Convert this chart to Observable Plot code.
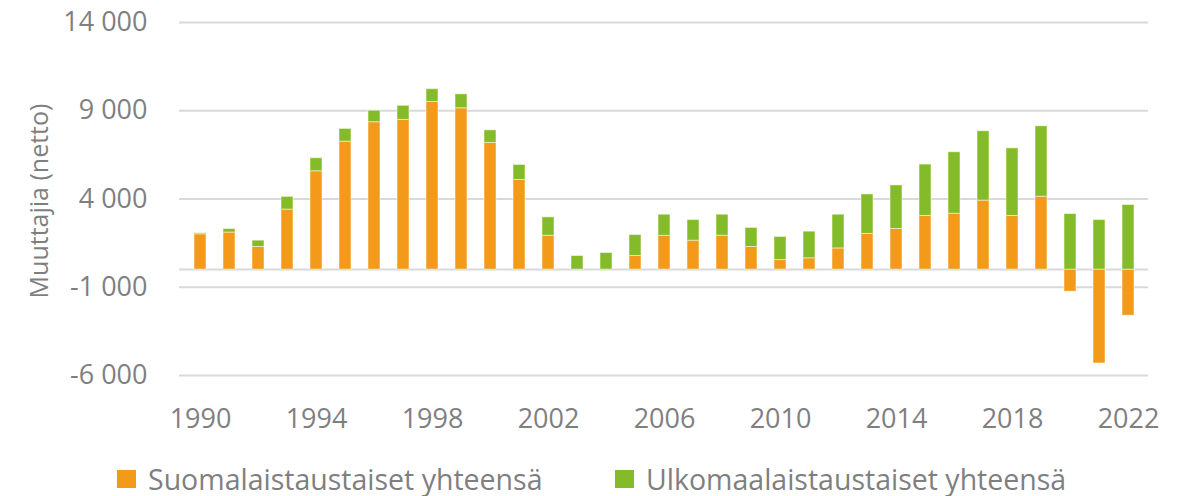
<!DOCTYPE html>
<html>
<head>
<meta charset="utf-8">
<script src="https://cdn.jsdelivr.net/npm/d3@7"></script>
<script src="https://cdn.jsdelivr.net/npm/@observablehq/plot@0.6"></script>
<style>
  html, body { margin: 0; padding: 0; background: #fff; }
  body { width: 1192px; height: 496px; overflow: hidden; font-family: "Open Sans", sans-serif; position: relative; }
  #legend { position: absolute; left: 0; top: 460px; width: 1192px; height: 38px; font-size: 28.5px; color: #7f7f7f; }
  .item { display: flex; align-items: center; position: absolute; top: 0; height: 38px; }
  .sw { width: 19px; height: 18px; margin-right: 12px; }
</style>
</head>
<body>
<div id="chart"></div>
<div id="legend"></div>
<script>
const years = d3.range(1990, 2023);
const suomalais = [2000, 2100, 1280, 3400, 5570, 7250, 8350, 8480, 9500, 9140, 7180, 5080, 1920, 0, 0, 770, 1920, 1640, 1920, 1280, 540, 640, 1200, 2020, 2300, 3040, 3170, 3910, 3040, 4130, -1250, -5320, -2610];
const ulkomaalais = [60, 200, 360, 720, 740, 720, 650, 800, 720, 790, 710, 850, 1040, 770, 940, 1190, 1190, 1170, 1190, 1080, 1310, 1510, 1910, 2240, 2470, 2910, 3480, 3930, 3830, 3990, 3150, 2810, 3660];
const seriesNames = ["Suomalaistaustaiset yhteensä", "Ulkomaalaistaustaiset yhteensä"];
const seriesColors = ["#f39a1a", "#84bc29"];
const yTicks = [-6000, -1000, 4000, 9000, 14000];
const xTicks = [1990, 1994, 1998, 2002, 2006, 2010, 2014, 2018, 2022];
const yLabel = "Muuttajia (netto)";

const data = [];
years.forEach((y, i) => {
  data.push({year: y, series: seriesNames[0], value: suomalais[i]});
  data.push({year: y, series: seriesNames[1], value: ulkomaalais[i]});
});

const fmt = d => d3.format(",")(d).replace(/,/g, " ").replace("\u2212", "-");

const plot = Plot.plot({
  width: 1192,
  height: 440,
  marginLeft: 179,
  marginRight: 44,
  marginTop: 22,
  marginBottom: 65,
  style: { fontFamily: "'Open Sans', sans-serif", fontSize: "27px", color: "#7f7f7f", background: "#fff", overflow: "visible" },
  x: { type: "band", domain: years, padding: 0.6, paddingOuter: 0.3 },
  y: { domain: [-6000, 14000] },
  color: { domain: seriesNames, range: seriesColors },
  marks: [
    Plot.ruleY(yTicks, { stroke: "#d9d9d9", strokeWidth: 2 }),
    Plot.ruleY([0], { stroke: "#d9d9d9", strokeWidth: 2 }),
    Plot.barY(data, { x: "year", y: "value", fill: "series", z: "series", stroke: "#fff", strokeOpacity: 0.5, strokeWidth: 1 }),
    Plot.axisY({ ticks: yTicks, tickFormat: fmt, tickSize: 0, tickPadding: 32, label: null }),
    Plot.text([yLabel], { frameAnchor: "left", textAnchor: "middle", rotate: -90, dx: -140, dy: 2, fontSize: 25, fill: "#7f7f7f" }),
    Plot.axisX({ ticks: xTicks, tickSize: 0, tickPadding: 33, tickFormat: d => String(d), label: null })
  ]
});
document.getElementById("chart").appendChild(plot);

const legend = document.getElementById("legend");
const lefts = [117, 615];
seriesNames.forEach((n, i) => {
  const it = document.createElement("div");
  it.className = "item";
  it.style.left = lefts[i] + "px";
  const sw = document.createElement("span");
  sw.className = "sw";
  sw.style.background = seriesColors[i];
  const t = document.createElement("span");
  t.textContent = n;
  it.appendChild(sw); it.appendChild(t);
  legend.appendChild(it);
});
</script>
</body>
</html>
